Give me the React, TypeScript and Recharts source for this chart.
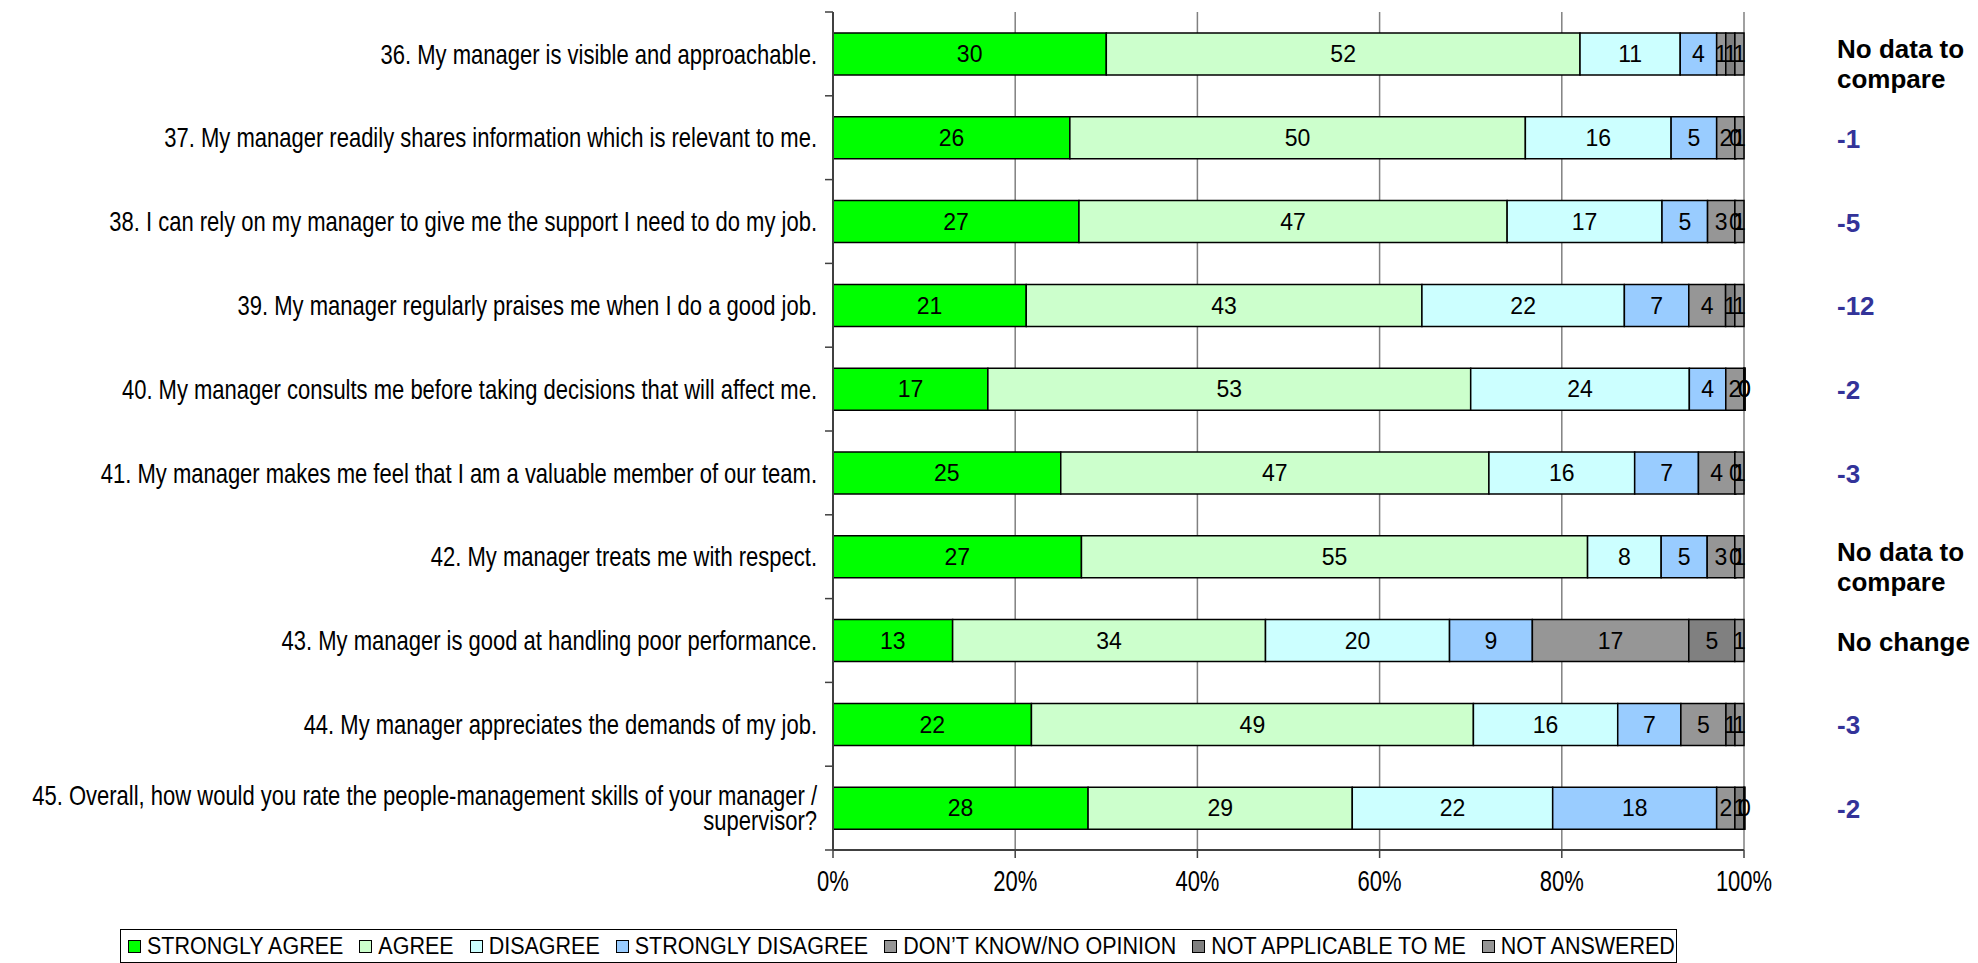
import { BarChart, Bar, XAxis, YAxis, CartesianGrid, LabelList } from "recharts";

const categories = [
  "36. My manager is visible and approachable.",
  "37. My manager readily shares information which is relevant to me.",
  "38. I can rely on my manager to give me the support I need to do my job.",
  "39. My manager regularly praises me when I do a good job.",
  "40. My manager consults me before taking decisions that will affect me.",
  "41. My manager makes me feel that I am a valuable member of our team.",
  "42. My manager treats me with respect.",
  "43. My manager is good at handling poor performance.",
  "44. My manager appreciates the demands of my job.",
  "45. Overall, how would you rate the people-management skills of your manager / supervisor?",
];
const stronglyAgree = [30, 26, 27, 21, 17, 25, 27, 13, 22, 28];
const agree = [52, 50, 47, 43, 53, 47, 55, 34, 49, 29];
const disagree = [11, 16, 17, 22, 24, 16, 8, 20, 16, 22];
const stronglyDisagree = [4, 5, 5, 7, 4, 7, 5, 9, 7, 18];
const dontKnow = [1, 2, 3, 4, 2, 4, 3, 17, 5, 2];
const notApplicable = [1, 0, 0, 1, 0, 0, 0, 5, 1, 1];
const notAnswered = [1, 1, 1, 1, 0, 1, 1, 1, 1, 0];
// change vs previous survey, shown to the right of each bar
const changes = ["No data to compare", "-1", "-5", "-12", "-2", "-3", "No data to compare", "No change", "-3", "-2"];
const pctTicks = [0, 0.2, 0.4, 0.6, 0.8, 1];

const series = [
  { key: "sa", name: "STRONGLY AGREE", color: "#00FF00", values: stronglyAgree },
  { key: "a", name: "AGREE", color: "#CCFFCC", values: agree },
  { key: "d", name: "DISAGREE", color: "#CCFFFF", values: disagree },
  { key: "sd", name: "STRONGLY DISAGREE", color: "#99CCFF", values: stronglyDisagree },
  { key: "dk", name: "DON\u2019T KNOW/NO OPINION", color: "#969696", values: dontKnow },
  { key: "na", name: "NOT APPLICABLE TO ME", color: "#808080", values: notApplicable },
  { key: "nans", name: "NOT ANSWERED", color: "#969696", values: notAnswered },
];

const data = categories.map((name, i) => {
  const row: Record<string, string | number> = { name };
  series.forEach((s) => (row[s.key] = s.values[i]));
  return row;
});

const FONT = "'Liberation Sans', Arial, sans-serif";
const W = 1978;
const H = 963;
const MARGIN = { top: 12, right: 0, bottom: 73, left: 0 };
const X_AXIS_H = 40;
const BAND = (H - MARGIN.top - MARGIN.bottom - X_AXIS_H) / categories.length;

// naive word wrap by character count
function wrap(text: string, max: number): string[] {
  const out: string[] = [];
  let cur = "";
  for (const w of text.split(" ")) {
    if (cur && (cur + " " + w).length > max) {
      out.push(cur);
      cur = w;
    } else cur = cur ? cur + " " + w : w;
  }
  if (cur) out.push(cur);
  return out;
}

function CategoryTick(props: any) {
  const { x, y, payload, index } = props;
  const axisX = x + 8;
  const lines = wrap(String(payload.value), 80);
  return (
    <g>
      <line x1={axisX - 8} x2={axisX} y1={y - BAND / 2} y2={y - BAND / 2} stroke="#404040" strokeWidth={1.5} />
      {index === categories.length - 1 && (
        <line x1={axisX - 8} x2={axisX} y1={y + BAND / 2} y2={y + BAND / 2} stroke="#404040" strokeWidth={1.5} />
      )}
      <text transform={`translate(${x - 8},${y}) scale(1,1.25)`} textAnchor="end" fontSize={22} fontFamily={FONT} fill="#000">
        {lines.map((l, i) => (
          <tspan key={i} x={0} y={(i - (lines.length - 1) / 2) * 20} dy="0.35em">
            {l}
          </tspan>
        ))}
      </text>
    </g>
  );
}

function ChangeTick(props: any) {
  const { x, y, index } = props;
  const label = changes[index];
  const lines = wrap(label, 11);
  const isText = label.startsWith("No");
  return (
    <text x={x + 85} y={y + 10 - (lines.length - 1) * 6} fontSize={26} fontWeight="bold" fontFamily={FONT} fill={isText ? "#000" : "#333399"}>
      {lines.map((l, i) => (
        <tspan key={i} x={x + 85} dy={i === 0 ? 0 : 30}>
          {l}
        </tspan>
      ))}
    </text>
  );
}

function PctTick(props: any) {
  const { x, y, payload } = props;
  return (
    <text transform={`translate(${x},${y + 33}) scale(1,1.3)`} textAnchor="middle" fontSize={22} fontFamily={FONT} fill="#000">
      {`${Math.round(payload.value * 100)}%`}
    </text>
  );
}

function LegendBox() {
  return (
    <div
      style={{
        position: "absolute",
        left: 120,
        top: 929,
        width: 1557,
        height: 34,
        boxSizing: "border-box",
        border: "1.5px solid #000",
        display: "flex",
        alignItems: "center",
        paddingLeft: 7,
        gap: 16,
        fontFamily: FONT,
        fontSize: 21.5,
        color: "#000",
        whiteSpace: "nowrap",
      }}
    >
      {series.map((s) => (
        <span key={s.key} style={{ display: "flex", alignItems: "center", gap: 6 }}>
          <span style={{ width: 13, height: 13, boxSizing: "border-box", background: s.color, border: "1.5px solid #000", display: "inline-block" }} />
          <span style={{ display: "inline-block", transform: "scaleY(1.15)" }}>{s.name}</span>
        </span>
      ))}
    </div>
  );
}

export default function App() {
  return (
    <div style={{ position: "absolute", left: 0, top: 0, width: W, height: H, background: "#fff" }}>
      <BarChart width={W} height={H} data={data} layout="vertical" stackOffset="expand" margin={MARGIN} barSize={42}>
        <CartesianGrid horizontal={false} stroke="#808080" strokeWidth={1.5} />
        <XAxis
          type="number"
          domain={[0, 1]}
          ticks={pctTicks}
          height={X_AXIS_H}
          tickSize={8}
          tickMargin={0}
          axisLine={{ stroke: "#404040", strokeWidth: 2 }}
          tickLine={{ stroke: "#404040", strokeWidth: 1.5 }}
          tick={<PctTick />}
        />
        <XAxis xAxisId="top" orientation="top" type="number" domain={[0, 1]} height={0} tick={false} tickLine={false} axisLine={{ stroke: "#808080", strokeWidth: 1.5 }} />
        <YAxis
          type="category"
          dataKey="name"
          width={833}
          interval={0}
          tickSize={8}
          tickMargin={0}
          tickLine={false}
          axisLine={{ stroke: "#404040", strokeWidth: 2 }}
          tick={<CategoryTick />}
        />
        <YAxis
          yAxisId="right"
          orientation="right"
          type="category"
          dataKey="name"
          width={234}
          interval={0}
          tickSize={8}
          tickMargin={0}
          tickLine={false}
          axisLine={false}
          tick={<ChangeTick />}
        />
        {series.map((s) => (
          <Bar key={s.key} dataKey={s.key} name={s.name} stackId="a" fill={s.color} stroke="#000" strokeWidth={1.5} minPointSize={1} isAnimationActive={false}>
            <LabelList dataKey={s.key} position="center" fill="#000" fontSize={23} fontFamily={FONT} />
          </Bar>
        ))}
      </BarChart>
      <LegendBox />
    </div>
  );
}
